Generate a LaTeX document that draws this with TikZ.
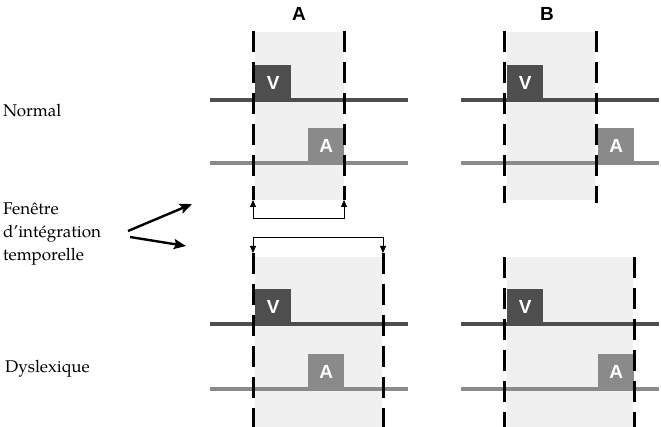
\documentclass[tikz,border=0pt]{standalone}
\usepackage{fontspec}
\setmainfont{TeX Gyre Pagella}
\newfontfamily\labfont{Liberation Sans}
\usetikzlibrary{arrows.meta}
\definecolor{darkg}{RGB}{78,78,78}
\definecolor{midg}{RGB}{138,138,138}
\definecolor{lightg}{RGB}{240,240,240}
\begin{document}
\begin{tikzpicture}[x=1pt,y=-1pt,
  win/.style={fill=lightg,draw=none},
  dline/.style={black,line width=3pt,dash pattern=on 21pt off 10pt},
  vline/.style={darkg,line width=4pt},
  aline/.style={midg,line width=4.5pt},
  sbox/.style={draw=none,minimum width=36pt,minimum height=37pt,inner sep=0pt,
    text=white,font=\labfont\bfseries\fontsize{19}{19}\selectfont,anchor=south west},
  vbox/.style={sbox,fill=darkg},
  abox/.style={sbox,fill=midg},
  title/.style={font=\labfont\bfseries\fontsize{19}{19}\selectfont},
  side/.style={font=\fontsize{17}{23}\selectfont,anchor=base west,inner sep=0pt,align=left},
  bracket/.style={black,line width=0.8pt,{Triangle[length=7pt,width=6pt]}-{Triangle[length=7pt,width=6pt]}},
  pointer/.style={black,line width=2.4pt,-{Stealth[length=12pt,width=10pt,inset=2pt]}}
]
\useasboundingbox (0,0) rectangle (661,427);

% titles
\node[title] (tA) at (299,14) {A};
\node[title] (tB) at (547,14) {B};

% windows
\fill[win] (255,32) rectangle (344,200);
\fill[win] (507,32) rectangle (595,200);
\fill[win] (255,257) rectangle (382,427);
\fill[win] (507,257) rectangle (633,427);

% time lines
\draw[vline] (210,100) -- (408,100);
\draw[aline] (210,163) -- (408,163);
\draw[vline] (461,100) -- (659,100);
\draw[aline] (461,163) -- (659,163);
\draw[vline] (210,324) -- (408,324);
\draw[aline] (210,389) -- (408,389);
\draw[vline] (461,324) -- (659,324);
\draw[aline] (461,389) -- (659,389);

% stimuli
\node[vbox] (v1) at (255,102) {V};
\node[abox] (a1) at (308,165) {A};
\node[vbox] (v2) at (507,102) {V};
\node[abox] (a2) at (598,165) {A};
\node[vbox] (v3) at (255,326) {V};
\node[abox] (a3) at (308,391) {A};
\node[vbox] (v4) at (507,326) {V};
\node[abox] (a4) at (598,391) {A};

% dashed window borders
\coordinate (d1t) at (253,31);  \coordinate (d1b) at (253,200);
\coordinate (d2t) at (344,31);  \coordinate (d2b) at (344,200);
\coordinate (d3t) at (504,31);  \coordinate (d3b) at (504,203);
\coordinate (d4t) at (596,31);  \coordinate (d4b) at (596,203);
\coordinate (d5t) at (253,253); \coordinate (d5b) at (253,427);
\coordinate (d6t) at (383,253); \coordinate (d6b) at (383,427);
\coordinate (d7t) at (504,257); \coordinate (d7b) at (504,427);
\coordinate (d8t) at (634,257); \coordinate (d8b) at (634,427);
\foreach \i in {1,...,8} {\draw[dline] (d\i t) -- (d\i b);}

% brackets
\coordinate (b1l) at (253,218); \coordinate (b1r) at (344,218);
\draw[bracket] (d1b) -- (b1l) -- (b1r) -- (d2b);
\coordinate (b2l) at (253,237); \coordinate (b2r) at (383,237);
\draw[bracket] (d5t) -- (b2l) -- (b2r) -- (d6t);

% side labels
\node[side] (normal) at (3,117) {Normal};
\node[side] (fen) at (3,261) {Fenêtre\\d’intégration\\temporelle};
\node[side] (dys) at (5,373) {Dyslexique};

% pointers
\coordinate (p1s) at (128,231); \coordinate (p1e) at (192,204);
\coordinate (p2s) at (130,237); \coordinate (p2e) at (186,246);
\draw[pointer] (p1s) -- (p1e);
\draw[pointer] (p2s) -- (p2e);
\end{tikzpicture}
\end{document}
